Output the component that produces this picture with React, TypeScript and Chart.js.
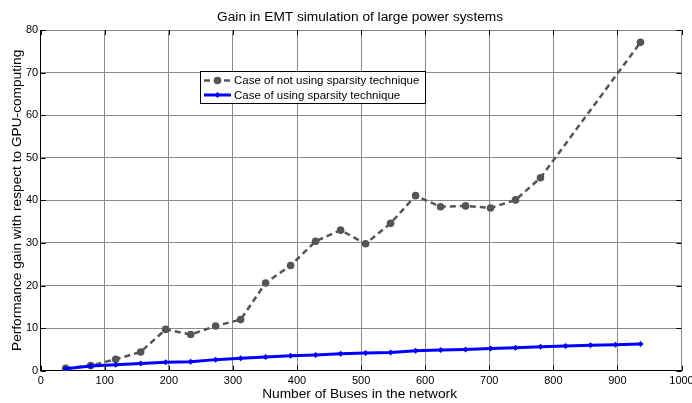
import React, { useEffect, useRef } from "react";
import { Chart, registerables } from "chart.js";

Chart.register(...registerables);

// ---- data ----
const busesNoSparsity = [39, 78, 117, 156, 195, 234, 273, 312, 351, 390, 429, 468, 507, 546, 585, 624, 663, 702, 741, 780, 936];
const gainNoSparsity = [0.56, 1.2, 2.7, 4.4, 9.7, 8.5, 10.5, 12.0, 20.6, 24.7, 30.4, 33.0, 29.8, 34.6, 41.1, 38.5, 38.7, 38.2, 40.1, 45.3, 77.1];

const busesSparsity = [39, 78, 117, 156, 195, 234, 273, 312, 351, 390, 429, 468, 507, 546, 585, 624, 663, 702, 741, 780, 819, 858, 897, 936];
const gainSparsity = [0.45, 1.1, 1.4, 1.7, 2.0, 2.1, 2.6, 2.9, 3.2, 3.5, 3.7, 4.0, 4.15, 4.3, 4.7, 4.85, 5.0, 5.2, 5.4, 5.6, 5.8, 5.95, 6.1, 6.25];

const titleText = "Gain in EMT simulation of large power systems";
const xAxisTitle = "Number of Buses in the network";
const yAxisTitle = "Performance gain with respect to GPU-computing";
const legendLabels = ["Case of not using sparsity technique", "Case of using sparsity technique"];

const FONT = "Arial, 'Liberation Sans', Helvetica, sans-serif";
const GRAY = "#555555";
const BLUE = "#0000ff";

const overlayPlugin = {
  id: "overlay",
  afterDraw(chart: any) {
    const { ctx, chartArea: ca, scales } = chart;
    const xs = scales.x;
    const ys = scales.y;
    ctx.save();

    // inward ticks on all four sides
    ctx.strokeStyle = "#000";
    ctx.lineWidth = 1;
    ctx.setLineDash([]);
    const tl = 5;
    ctx.beginPath();
    xs.ticks.forEach((t: any) => {
      const px = Math.round(xs.getPixelForValue(t.value)) + 0.5;
      ctx.moveTo(px, ca.bottom);
      ctx.lineTo(px, ca.bottom - tl);
      ctx.moveTo(px, ca.top);
      ctx.lineTo(px, ca.top + tl);
    });
    ys.ticks.forEach((t: any) => {
      const py = Math.round(ys.getPixelForValue(t.value)) + 0.5;
      ctx.moveTo(ca.left, py);
      ctx.lineTo(ca.left + tl, py);
      ctx.moveTo(ca.right, py);
      ctx.lineTo(ca.right - tl, py);
    });
    ctx.stroke();

    // titles
    ctx.fillStyle = "#000";
    ctx.font = `13.7px ${FONT}`;
    ctx.textAlign = "center";
    ctx.textBaseline = "alphabetic";
    const cx = (ca.left + ca.right) / 2;
    ctx.fillText(titleText, cx - 1, 21);
    ctx.fillText(xAxisTitle, cx - 1.5, 398);
    ctx.save();
    ctx.translate(20.5, (ca.top + ca.bottom) / 2);
    ctx.rotate(-Math.PI / 2);
    ctx.fillText(yAxisTitle, 0, 0);
    ctx.restore();

    // legend box
    const lx = 200, ly = 71, lw = 225, lh = 32;
    ctx.fillStyle = "#fff";
    ctx.fillRect(lx, ly, lw, lh);
    ctx.strokeStyle = "#000";
    ctx.lineWidth = 1;
    ctx.strokeRect(lx + 0.5, ly + 0.5, lw, lh);

    const rows = [ly + 9.5, ly + 24];
    // row 1: gray dashed with circle
    ctx.strokeStyle = GRAY;
    ctx.lineWidth = 2.5;
    ctx.setLineDash([6, 4]);
    ctx.beginPath();
    ctx.moveTo(lx + 4, rows[0]);
    ctx.lineTo(lx + 31, rows[0]);
    ctx.stroke();
    ctx.setLineDash([]);
    ctx.fillStyle = GRAY;
    ctx.beginPath();
    ctx.arc(lx + 17.5, rows[0], 3.8, 0, Math.PI * 2);
    ctx.fill();
    // row 2: blue solid with diamond
    ctx.strokeStyle = BLUE;
    ctx.lineWidth = 3;
    ctx.beginPath();
    ctx.moveTo(lx + 4, rows[1]);
    ctx.lineTo(lx + 31, rows[1]);
    ctx.stroke();
    ctx.fillStyle = BLUE;
    ctx.beginPath();
    ctx.moveTo(lx + 17.5, rows[1] - 3);
    ctx.lineTo(lx + 20.5, rows[1]);
    ctx.lineTo(lx + 17.5, rows[1] + 3);
    ctx.lineTo(lx + 14.5, rows[1]);
    ctx.closePath();
    ctx.fill();

    ctx.fillStyle = "#000";
    ctx.font = `11.5px ${FONT}`;
    ctx.textAlign = "left";
    ctx.textBaseline = "middle";
    ctx.fillText(legendLabels[0], lx + 34, rows[0] + 0.5);
    ctx.fillText(legendLabels[1], lx + 34, rows[1] + 0.5);

    ctx.restore();
  },
};

export default function App() {
  const canvasRef = useRef<HTMLCanvasElement | null>(null);

  useEffect(() => {
    if (!canvasRef.current) return;
    const chart = new Chart(canvasRef.current, {
      type: "line",
      data: {
        datasets: [
          {
            label: legendLabels[0],
            data: busesNoSparsity.map((b, i) => ({ x: b, y: gainNoSparsity[i] })),
            borderColor: GRAY,
            backgroundColor: GRAY,
            borderWidth: 2.5,
            borderDash: [6, 4],
            pointStyle: "circle",
            pointRadius: 3.8,
            pointBorderWidth: 0,
            pointBackgroundColor: GRAY,
            tension: 0,
            order: 1,
          },
          {
            label: legendLabels[1],
            data: busesSparsity.map((b, i) => ({ x: b, y: gainSparsity[i] })),
            borderColor: BLUE,
            backgroundColor: BLUE,
            borderWidth: 3,
            pointStyle: "rectRot",
            pointRadius: 3,
            pointBorderWidth: 0,
            pointBackgroundColor: BLUE,
            tension: 0,
            order: 0,
          },
        ],
      },
      options: {
        animation: false,
        responsive: false,
        layout: { padding: { left: 0, top: 30, right: 10.5, bottom: 0 } },
        plugins: {
          legend: { display: false },
          title: { display: false },
          tooltip: { enabled: false },
        },
        scales: {
          x: {
            type: "linear",
            min: 0,
            max: 1000,
            ticks: {
              stepSize: 100,
              color: "#000",
              font: { family: FONT, size: 11 },
              padding: 4,
              maxRotation: 0,
              autoSkip: false,
              callback: (v: any) => String(v),
            },
            grid: { color: "#8a8a8a", lineWidth: 1, drawTicks: false, tickLength: 0 },
            border: { display: true, color: "#000", width: 1 },
            afterFit: (scale: any) => {
              scale.height = 32.3;
              scale.paddingLeft = 0;
              scale.paddingRight = 0;
            },
          },
          y: {
            type: "linear",
            min: 0,
            max: 80,
            ticks: {
              stepSize: 10,
              color: "#000",
              font: { family: FONT, size: 11 },
              padding: 2.5,
              callback: (v: any) => String(v),
            },
            grid: { color: "#8a8a8a", lineWidth: 1, drawTicks: false, tickLength: 0 },
            border: { display: true, color: "#000", width: 1 },
            afterFit: (scale: any) => {
              scale.width = 40.7;
              scale.paddingTop = 0;
              scale.paddingBottom = 0;
            },
          },
        },
      },
      plugins: [overlayPlugin],
    });
    return () => chart.destroy();
  }, []);

  return (
    <div style={{ position: "absolute", left: 0, top: 0, width: 692, height: 403, background: "#fff" }}>
      <canvas ref={canvasRef} width={692} height={403} style={{ display: "block" }} />
    </div>
  );
}
